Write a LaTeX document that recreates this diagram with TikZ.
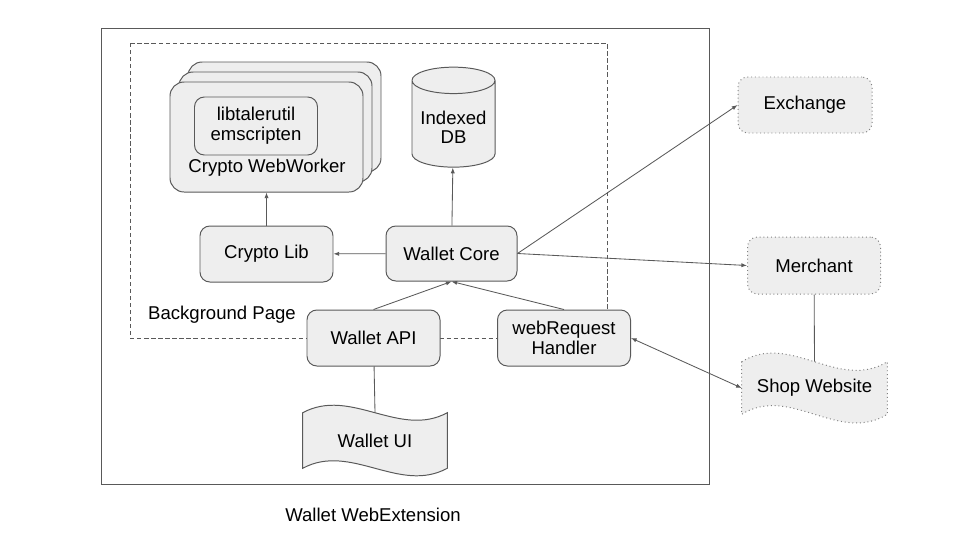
\documentclass[tikz,border=0pt]{standalone}
\usepackage{fontspec}
\setmainfont{Liberation Sans}
\usetikzlibrary{arrows.meta,shapes.geometric}
\definecolor{boxfill}{HTML}{EEEEEE}
\definecolor{boxline}{HTML}{595959}

\begin{document}
\begin{tikzpicture}[
  font=\fontsize{13.2}{14}\selectfont,
  box/.style={draw=boxline, line width=0.7pt, rounded corners=7pt, fill=boxfill,
    align=center, inner sep=0pt, minimum width=3.325cm, minimum height=1.4cm},
  workerbox/.style={draw=boxline, line width=0.7pt, rounded corners=10pt, fill=boxfill,
    inner sep=0pt, minimum width=4.825cm, minimum height=2.75cm},
  remotebox/.style={draw=gray, dotted, line width=0.7pt, rounded corners=7pt, fill=boxfill,
    align=center, inner sep=0pt, minimum width=3.35cm, minimum height=1.4cm},
  waveline/.style={draw=boxline, line width=0.7pt, fill=boxfill},
  remotewave/.style={draw=gray, dotted, line width=0.7pt, fill=boxfill},
  dbbox/.style={cylinder, shape border rotate=90, aspect=0.4, draw=boxline,
    line width=0.7pt, fill=boxfill, inner sep=0pt,
    minimum width=2.075cm, minimum height=2.5cm},
  flow/.style={draw=boxline, line width=0.6pt, -{Latex[length=4pt,width=3pt]}},
  link/.style={draw=boxline, line width=0.6pt}
]
\useasboundingbox (0,0) rectangle (24,-13.5);
% frames
\draw[boxline, line width=0.7pt] (2.525,-0.7) rectangle (17.725,-12.1);
\draw[boxline, line width=0.6pt, dash pattern=on 3pt off 2pt] (3.25,-1.075) rectangle (15.175,-8.45);
\node (bgpage) at (5.55,-7.875) {Background Page};
\node (webext) at (9.325,-12.875) {Wallet WebExtension};

% crypto worker stack
\node[workerbox] (workerback2) at (7.1125,-2.925) {};
\node[workerbox] (workerback1) at (6.8875,-3.175) {};
\node[workerbox] (worker) at (6.6625,-3.425) {};
\node[box, minimum width=3.075cm, minimum height=1.45cm] (libtaler) at (6.4,-3.15)
  {libtalerutil\\emscripten};
\node (workerlabel) at (6.675,-4.2) {Crypto WebWorker};

\node[dbbox] (indexeddb) at (11.3375,-3.1)
  {\raisebox{-0.15cm}[\height][\depth]{\begin{tabular}{@{}c@{}}Indexed\\DB\end{tabular}}};
\node[box] (cryptolib) at (6.6625,-6.35) {Crypto Lib};
\node[box, minimum width=3.275cm, minimum height=1.375cm] (walletcore) at (11.2875,-6.3375) {Wallet Core};
\node[box] (walletapi) at (9.3375,-8.45) {Wallet API};
\node[box] (webrequest) at (14.1,-8.45) {webRequest\\Handler};

% wave shapes: one sine period on top and bottom
\node[minimum width=3.6cm, minimum height=1.375cm, inner sep=0pt] (walletui) at (9.375,-11.0125) {};
\path[waveline] (walletui.north west) .. controls +(1.2,0.65) and +(-1.2,-0.65) .. (walletui.north east)
  -- (walletui.south east) .. controls +(-1.2,-0.65) and +(1.2,0.65) .. (walletui.south west) -- cycle;
\node at (walletui) {Wallet UI};

\node[remotebox] (exchange) at (20.125,-2.625) {Exchange};
\node[remotebox, minimum width=3.325cm, minimum height=1.425cm] (merchant) at (20.35,-6.6375) {Merchant};
\node[minimum width=3.625cm, minimum height=1.3cm, inner sep=0pt] (shopweb) at (20.3625,-9.7) {};
\path[remotewave] (shopweb.north west) .. controls +(1.21,0.75) and +(-1.21,-0.75) .. (shopweb.north east)
  -- (shopweb.south east) .. controls +(-1.21,-0.75) and +(1.21,0.75) .. (shopweb.south west) -- cycle;
\node at (shopweb) {Shop Website};

\draw[flow] (cryptolib) -- (worker);
\draw[flow] (walletcore) -- (indexeddb);
\draw[flow] (walletcore) -- (cryptolib);
\draw[flow] (walletapi.north) -- (walletcore.south);
\draw[flow] (webrequest.north) -- (walletcore.south);
\draw[flow] (walletcore.east) -- (exchange.west);
\draw[flow] (walletcore.east) -- (merchant.west);
\draw[flow, {Latex[length=4pt,width=3pt]}-{Latex[length=4pt,width=3pt]}] (webrequest.east) -- (shopweb.west);
\draw[link] (merchant) -- (shopweb.north);
\draw[link] (walletapi) -- (walletui.north);
\end{tikzpicture}
\end{document}
